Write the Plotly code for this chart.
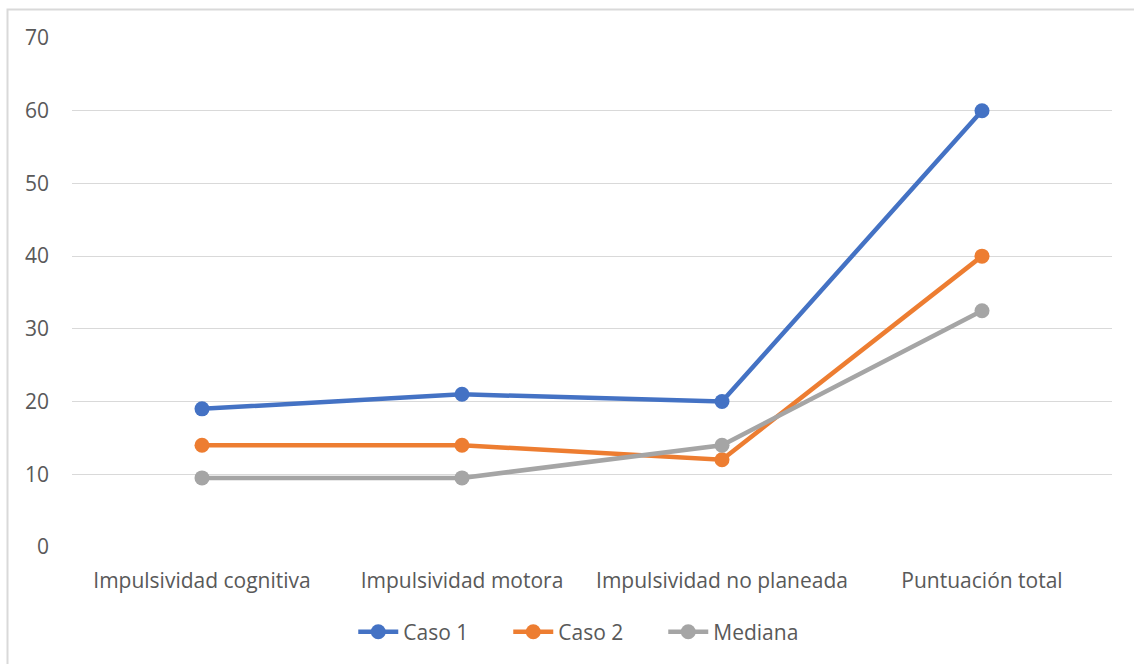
import plotly.graph_objects as go

categorias = ["Impulsividad cognitiva", "Impulsividad motora",
              "Impulsividad no planeada", "Puntuación total"]
caso_1 = [19, 21, 20, 60]
caso_2 = [14, 14, 12, 40]
mediana = [9.5, 9.5, 14, 32.5]
y_ticks = [0, 10, 20, 30, 40, 50, 60, 70]

series = [
    ("Caso 1", caso_1, "#4472C4"),
    ("Caso 2", caso_2, "#ED7D31"),
    ("Mediana", mediana, "#A5A5A5"),
]

FONT = "Open Sans"
TEXT = "#595959"
SIZE = 21

fig = go.Figure()
for nombre, valores, color in series:
    fig.add_trace(go.Scatter(
        x=categorias, y=valores, name=nombre, mode="lines+markers",
        line=dict(color=color, width=4.5),
        marker=dict(color=color, size=15),
    ))

fig.update_layout(
    width=1134, height=664,
    margin=dict(l=72, r=22, t=38, b=116),
    paper_bgcolor="white", plot_bgcolor="white",
    font=dict(family=FONT, size=SIZE, color=TEXT),
    showlegend=True,
    legend=dict(orientation="h", x=0.494, xanchor="center", y=-0.165, yanchor="middle",
                font=dict(size=SIZE, color=TEXT), itemwidth=40, tracegroupgap=0,
                entrywidth=100),
    xaxis=dict(range=[-0.5, 3.5], showgrid=False, zeroline=False, showline=False,
               ticks="", ticklabelstandoff=19, tickfont=dict(size=SIZE, color=TEXT)),
    yaxis=dict(range=[0, 70], tickvals=y_ticks, showgrid=True, gridcolor="#D9D9D9",
               gridwidth=1.3, zeroline=False, showline=False, ticks="",
               ticklabelstandoff=22, tickfont=dict(size=SIZE, color=TEXT)),
    shapes=[dict(type="rect", xref="paper", yref="paper",
                 x0=-64.5 / 1040, x1=1.2, y0=-0.5, y1=1 + 28.5 / 510,
                 line=dict(color="#D9D9D9", width=2), fillcolor="rgba(0,0,0,0)",
                 layer="below")],
)

fig.write_html("out.html")
